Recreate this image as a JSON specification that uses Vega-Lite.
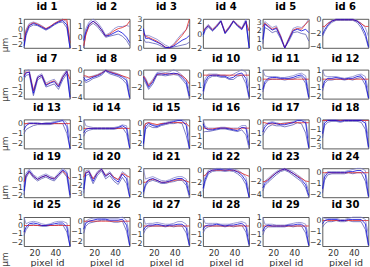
{
"$schema":"https://vega.github.io/schema/vega-lite/v6.json",
"padding":{"left":0,"top":2,"right":0,"bottom":0},
"spacing":0.8,
"data":{"values":[
{"id":1,"x":10,"b":-2.2,"r":-1.5,"u":-1.6,"l":-2.5},{"id":1,"x":12,"b":-0.5,"r":-0.2,"u":0.0,"l":-0.8},{"id":1,"x":15,"b":0.5,"r":0.6,"u":0.8,"l":0.3},{"id":1,"x":19,"b":0.8,"r":0.9,"u":1.0,"l":0.6},{"id":1,"x":23,"b":0.6,"r":0.7,"u":0.8,"l":0.5},{"id":1,"x":27,"b":0.3,"r":0.4,"u":0.5,"l":0.2},{"id":1,"x":31,"b":0.0,"r":0.1,"u":0.1,"l":-0.1},{"id":1,"x":35,"b":0.3,"r":0.4,"u":0.4,"l":0.2},{"id":1,"x":39,"b":0.7,"r":0.8,"u":0.8,"l":0.6},{"id":1,"x":43,"b":1.0,"r":1.1,"u":1.1,"l":0.9},{"id":1,"x":47,"b":1.2,"r":1.3,"u":1.4,"l":1.0},{"id":1,"x":51,"b":0.6,"r":1.3,"u":1.0,"l":0.2},{"id":1,"x":54,"b":-2.5,"r":-1.8,"u":-1.5,"l":-2.5},
{"id":2,"x":10,"b":-0.3,"r":-0.8,"u":0.0,"l":-1.0},{"id":2,"x":12,"b":0.5,"r":0.2,"u":0.8,"l":0.3},{"id":2,"x":15,"b":1.2,"r":1.1,"u":1.4,"l":1.0},{"id":2,"x":19,"b":1.5,"r":1.5,"u":1.7,"l":1.3},{"id":2,"x":23,"b":1.2,"r":1.2,"u":1.4,"l":1.0},{"id":2,"x":27,"b":0.7,"r":0.7,"u":0.9,"l":0.5},{"id":2,"x":31,"b":0.1,"r":0.1,"u":0.2,"l":0.0},{"id":2,"x":35,"b":0.2,"r":0.3,"u":0.4,"l":0.1},{"id":2,"x":39,"b":0.4,"r":0.6,"u":0.8,"l":0.2},{"id":2,"x":43,"b":0.6,"r":0.8,"u":1.0,"l":0.3},{"id":2,"x":47,"b":0.4,"r":0.9,"u":1.0,"l":0.1},{"id":2,"x":51,"b":0.0,"r":1.1,"u":1.1,"l":-0.3},{"id":2,"x":54,"b":-0.5,"r":1.5,"u":1.0,"l":-0.8},
{"id":3,"x":10,"b":2.0,"r":1.5,"u":1.6,"l":1.0},{"id":3,"x":12,"b":1.0,"r":1.2,"u":1.3,"l":0.6},{"id":3,"x":15,"b":1.0,"r":1.1,"u":1.3,"l":0.6},{"id":3,"x":19,"b":0.8,"r":0.9,"u":1.1,"l":0.5},{"id":3,"x":23,"b":0.6,"r":0.7,"u":0.9,"l":0.4},{"id":3,"x":27,"b":0.4,"r":0.4,"u":0.6,"l":0.2},{"id":3,"x":31,"b":0.05,"r":0.1,"u":0.3,"l":0.0},{"id":3,"x":35,"b":0.05,"r":0.0,"u":0.1,"l":0.0},{"id":3,"x":39,"b":0.2,"r":0.3,"u":0.4,"l":0.1},{"id":3,"x":43,"b":0.5,"r":0.8,"u":1.0,"l":0.2},{"id":3,"x":47,"b":0.8,"r":1.3,"u":1.5,"l":0.3},{"id":3,"x":51,"b":1.0,"r":1.9,"u":1.9,"l":0.4},{"id":3,"x":54,"b":1.3,"r":3.0,"u":2.5,"l":0.6},
{"id":4,"x":10,"b":0.0,"r":0.5,"u":0.4,"l":-0.3},{"id":4,"x":12,"b":0.8,"r":0.9,"u":1.0,"l":0.6},{"id":4,"x":15,"b":1.3,"r":1.3,"u":1.5,"l":1.1},{"id":4,"x":19,"b":0.6,"r":0.7,"u":0.8,"l":0.5},{"id":4,"x":23,"b":1.2,"r":1.3,"u":1.4,"l":1.1},{"id":4,"x":27,"b":2.0,"r":2.0,"u":2.2,"l":1.9},{"id":4,"x":31,"b":0.2,"r":0.3,"u":0.4,"l":0.1},{"id":4,"x":35,"b":1.0,"r":1.1,"u":1.2,"l":0.9},{"id":4,"x":39,"b":2.0,"r":2.0,"u":2.1,"l":1.9},{"id":4,"x":43,"b":1.3,"r":1.4,"u":1.5,"l":1.2},{"id":4,"x":47,"b":0.8,"r":0.9,"u":1.0,"l":0.7},{"id":4,"x":51,"b":2.0,"r":1.9,"u":2.3,"l":1.8},{"id":4,"x":54,"b":-2.0,"r":0.5,"u":-1.2,"l":-2.0},
{"id":5,"x":10,"b":1.0,"r":2.5,"u":2.0,"l":0.5},{"id":5,"x":12,"b":2.8,"r":2.9,"u":3.1,"l":2.4},{"id":5,"x":15,"b":2.5,"r":2.6,"u":2.8,"l":2.2},{"id":5,"x":19,"b":2.1,"r":2.2,"u":2.4,"l":1.8},{"id":5,"x":23,"b":2.3,"r":2.4,"u":2.6,"l":2.0},{"id":5,"x":27,"b":1.3,"r":1.4,"u":1.5,"l":1.1},{"id":5,"x":31,"b":0.0,"r":0.0,"u":0.1,"l":0.0},{"id":5,"x":35,"b":1.0,"r":1.1,"u":1.2,"l":0.8},{"id":5,"x":39,"b":2.0,"r":2.1,"u":2.3,"l":1.8},{"id":5,"x":43,"b":2.2,"r":2.3,"u":2.5,"l":1.9},{"id":5,"x":47,"b":2.0,"r":2.2,"u":2.4,"l":1.7},{"id":5,"x":51,"b":2.2,"r":2.8,"u":2.8,"l":1.6},{"id":5,"x":54,"b":1.8,"r":3.2,"u":3.4,"l":0.8},
{"id":6,"x":10,"b":-2.2,"r":-1.0,"u":-1.5,"l":-2.5},{"id":6,"x":12,"b":-1.5,"r":-1.0,"u":-1.0,"l":-1.8},{"id":6,"x":15,"b":-0.8,"r":-0.6,"u":-0.5,"l":-1.0},{"id":6,"x":19,"b":-0.2,"r":-0.2,"u":-0.1,"l":-0.4},{"id":6,"x":23,"b":0.0,"r":0.0,"u":0.1,"l":-0.1},{"id":6,"x":27,"b":0.0,"r":0.0,"u":0.1,"l":-0.1},{"id":6,"x":31,"b":0.0,"r":0.0,"u":0.1,"l":-0.1},{"id":6,"x":35,"b":0.0,"r":0.0,"u":0.1,"l":-0.1},{"id":6,"x":39,"b":0.0,"r":0.0,"u":0.1,"l":-0.1},{"id":6,"x":43,"b":-0.2,"r":-0.2,"u":-0.1,"l":-0.4},{"id":6,"x":47,"b":-0.8,"r":-0.6,"u":-0.5,"l":-1.2},{"id":6,"x":51,"b":-2.0,"r":-1.0,"u":-1.2,"l":-2.5},{"id":6,"x":54,"b":-4.0,"r":-1.0,"u":-2.5,"l":-4.2},
{"id":7,"x":10,"b":0.3,"r":0.5,"u":0.6,"l":0.0},{"id":7,"x":12,"b":0.8,"r":0.9,"u":1.1,"l":0.5},{"id":7,"x":15,"b":0.9,"r":0.9,"u":1.2,"l":0.6},{"id":7,"x":19,"b":-1.8,"r":-1.5,"u":-1.4,"l":-2.1},{"id":7,"x":23,"b":0.2,"r":0.2,"u":0.4,"l":-0.1},{"id":7,"x":27,"b":0.5,"r":0.5,"u":0.7,"l":0.3},{"id":7,"x":31,"b":-0.8,"r":-0.7,"u":-0.5,"l":-1.0},{"id":7,"x":35,"b":-0.5,"r":-0.4,"u":-0.2,"l":-0.8},{"id":7,"x":39,"b":-0.3,"r":-0.2,"u":0.0,"l":-0.6},{"id":7,"x":43,"b":-1.0,"r":-0.9,"u":-0.7,"l":-1.3},{"id":7,"x":47,"b":0.2,"r":0.3,"u":0.5,"l":-0.1},{"id":7,"x":51,"b":1.0,"r":1.0,"u":1.2,"l":0.7},{"id":7,"x":54,"b":-2.3,"r":0.0,"u":-1.5,"l":-2.5},
{"id":8,"x":10,"b":-1.0,"r":-0.8,"u":-0.7,"l":-1.3},{"id":8,"x":12,"b":-1.5,"r":-0.8,"u":-1.0,"l":-1.8},{"id":8,"x":15,"b":-1.3,"r":-1.0,"u":-1.0,"l":-1.6},{"id":8,"x":19,"b":-1.0,"r":-0.9,"u":-0.8,"l":-1.2},{"id":8,"x":23,"b":-0.8,"r":-0.7,"u":-0.6,"l":-1.0},{"id":8,"x":27,"b":-0.5,"r":-0.4,"u":-0.3,"l":-0.7},{"id":8,"x":31,"b":0.0,"r":0.0,"u":0.1,"l":-0.1},{"id":8,"x":35,"b":-0.3,"r":-0.2,"u":-0.1,"l":-0.5},{"id":8,"x":39,"b":-0.5,"r":-0.4,"u":-0.3,"l":-0.7},{"id":8,"x":43,"b":-0.7,"r":-0.6,"u":-0.5,"l":-0.9},{"id":8,"x":47,"b":-1.0,"r":-0.8,"u":-0.8,"l":-1.3},{"id":8,"x":51,"b":-1.5,"r":-1.0,"u":-1.2,"l":-2.0},{"id":8,"x":54,"b":-4.0,"r":-1.2,"u":-3.0,"l":-4.2},
{"id":9,"x":10,"b":-0.5,"r":-0.3,"u":-0.2,"l":-0.8},{"id":9,"x":12,"b":-1.0,"r":-0.8,"u":-0.6,"l":-1.3},{"id":9,"x":15,"b":-2.0,"r":-1.8,"u":-1.6,"l":-2.3},{"id":9,"x":19,"b":-1.2,"r":-1.0,"u":-0.8,"l":-1.5},{"id":9,"x":23,"b":0.0,"r":-0.1,"u":0.2,"l":-0.2},{"id":9,"x":27,"b":0.0,"r":0.0,"u":0.3,"l":-0.2},{"id":9,"x":31,"b":-0.1,"r":0.0,"u":0.2,"l":-0.3},{"id":9,"x":35,"b":0.0,"r":0.0,"u":0.3,"l":-0.2},{"id":9,"x":39,"b":0.1,"r":0.0,"u":0.6,"l":-0.1},{"id":9,"x":43,"b":0.0,"r":0.0,"u":0.3,"l":-0.2},{"id":9,"x":47,"b":-0.5,"r":-0.3,"u":-0.2,"l":-0.8},{"id":9,"x":51,"b":-1.2,"r":-0.8,"u":-0.8,"l":-1.6},{"id":9,"x":54,"b":-3.3,"r":-1.5,"u":-2.5,"l":-3.7},
{"id":10,"x":10,"b":-1.5,"r":0,"u":-1.0,"l":-1.8},{"id":10,"x":12,"b":-0.6,"r":0,"u":-0.3,"l":-0.9},{"id":10,"x":15,"b":-0.1,"r":0,"u":0.1,"l":-0.3},{"id":10,"x":19,"b":0.0,"r":0,"u":0.1,"l":-0.1},{"id":10,"x":23,"b":0.0,"r":0,"u":0.1,"l":-0.1},{"id":10,"x":27,"b":-0.1,"r":0,"u":0.0,"l":-0.2},{"id":10,"x":31,"b":-0.1,"r":0,"u":0.0,"l":-0.2},{"id":10,"x":35,"b":-0.3,"r":0,"u":-0.1,"l":-0.4},{"id":10,"x":39,"b":-0.2,"r":0,"u":0.1,"l":-0.4},{"id":10,"x":43,"b":0.1,"r":0,"u":0.3,"l":-0.1},{"id":10,"x":47,"b":0.2,"r":0,"u":0.5,"l":0.0},{"id":10,"x":51,"b":-0.3,"r":0,"u":0.3,"l":-0.8},{"id":10,"x":54,"b":-2.0,"r":0,"u":-1.2,"l":-2.2},
{"id":11,"x":10,"b":-1.2,"r":0,"u":1.1,"l":-1.5},{"id":11,"x":12,"b":-0.3,"r":0,"u":0.4,"l":-0.6},{"id":11,"x":15,"b":0.1,"r":0,"u":0.3,"l":-0.1},{"id":11,"x":19,"b":0.2,"r":0,"u":0.3,"l":0.0},{"id":11,"x":23,"b":0.2,"r":0,"u":0.3,"l":0.0},{"id":11,"x":27,"b":0.1,"r":0,"u":0.2,"l":0.0},{"id":11,"x":31,"b":0.1,"r":0,"u":0.2,"l":-0.1},{"id":11,"x":35,"b":0.1,"r":0,"u":0.3,"l":0.0},{"id":11,"x":39,"b":0.2,"r":0,"u":0.4,"l":0.0},{"id":11,"x":43,"b":0.4,"r":0,"u":0.6,"l":0.2},{"id":11,"x":47,"b":0.5,"r":0,"u":0.7,"l":0.3},{"id":11,"x":51,"b":0.0,"r":0,"u":0.4,"l":-0.5},{"id":11,"x":54,"b":-2.1,"r":0,"u":-1.5,"l":-2.3},
{"id":12,"x":10,"b":-1.0,"r":0,"u":1.1,"l":-1.4},{"id":12,"x":12,"b":-0.2,"r":0,"u":0.4,"l":-0.5},{"id":12,"x":15,"b":0.1,"r":0,"u":0.3,"l":-0.1},{"id":12,"x":19,"b":0.1,"r":0,"u":0.3,"l":-0.1},{"id":12,"x":23,"b":0.2,"r":0,"u":0.3,"l":0.0},{"id":12,"x":27,"b":0.1,"r":0,"u":0.2,"l":0.0},{"id":12,"x":31,"b":0.0,"r":0,"u":0.1,"l":-0.1},{"id":12,"x":35,"b":0.1,"r":0,"u":0.2,"l":0.0},{"id":12,"x":39,"b":0.1,"r":0,"u":0.3,"l":-0.1},{"id":12,"x":43,"b":0.3,"r":0,"u":0.5,"l":0.1},{"id":12,"x":47,"b":0.4,"r":0,"u":0.6,"l":0.2},{"id":12,"x":51,"b":-0.2,"r":0,"u":0.3,"l":-0.7},{"id":12,"x":54,"b":-2.2,"r":0,"u":-1.4,"l":-2.3},
{"id":13,"x":10,"b":-0.6,"r":0,"u":-0.2,"l":-1.0},{"id":13,"x":12,"b":-0.2,"r":0,"u":0.0,"l":-0.6},{"id":13,"x":15,"b":0.0,"r":0,"u":0.1,"l":-0.4},{"id":13,"x":19,"b":0.0,"r":0,"u":0.1,"l":-0.2},{"id":13,"x":23,"b":0.0,"r":0,"u":0.1,"l":-0.1},{"id":13,"x":27,"b":0.0,"r":0,"u":0.0,"l":-0.1},{"id":13,"x":31,"b":0.0,"r":0,"u":0.1,"l":-0.1},{"id":13,"x":35,"b":0.0,"r":0,"u":0.1,"l":-0.1},{"id":13,"x":39,"b":0.1,"r":0,"u":0.2,"l":0.0},{"id":13,"x":43,"b":0.2,"r":0,"u":0.3,"l":0.0},{"id":13,"x":47,"b":0.3,"r":0,"u":0.4,"l":0.0},{"id":13,"x":51,"b":-0.3,"r":0,"u":0.1,"l":-1.0},{"id":13,"x":54,"b":-2.5,"r":0,"u":-1.5,"l":-2.5},
{"id":14,"x":10,"b":-0.5,"r":0,"u":1.0,"l":-0.9},{"id":14,"x":12,"b":-0.1,"r":0,"u":0.3,"l":-0.4},{"id":14,"x":15,"b":0.0,"r":0,"u":0.2,"l":-0.2},{"id":14,"x":19,"b":0.0,"r":0,"u":0.1,"l":-0.1},{"id":14,"x":23,"b":0.0,"r":0,"u":0.1,"l":-0.1},{"id":14,"x":27,"b":0.0,"r":0,"u":0.1,"l":-0.1},{"id":14,"x":31,"b":0.0,"r":0,"u":0.1,"l":-0.1},{"id":14,"x":35,"b":0.0,"r":0,"u":0.1,"l":-0.1},{"id":14,"x":39,"b":0.0,"r":0,"u":0.1,"l":-0.1},{"id":14,"x":43,"b":0.1,"r":0,"u":0.2,"l":0.0},{"id":14,"x":47,"b":0.3,"r":0,"u":0.4,"l":0.1},{"id":14,"x":51,"b":0.0,"r":0,"u":0.3,"l":-0.6},{"id":14,"x":54,"b":-2.2,"r":0,"u":-1.5,"l":-2.3},
{"id":15,"x":10,"b":-2.0,"r":-0.5,"u":-1.5,"l":-2.3},{"id":15,"x":12,"b":-0.3,"r":0.0,"u":0.0,"l":-0.6},{"id":15,"x":15,"b":0.0,"r":0.1,"u":0.1,"l":-0.2},{"id":15,"x":19,"b":-0.2,"r":0.0,"u":-0.1,"l":-0.4},{"id":15,"x":23,"b":-0.3,"r":-0.1,"u":-0.2,"l":-0.4},{"id":15,"x":27,"b":-0.1,"r":0.0,"u":0.0,"l":-0.2},{"id":15,"x":31,"b":0.0,"r":0.0,"u":0.1,"l":-0.1},{"id":15,"x":35,"b":0.1,"r":0.1,"u":0.2,"l":0.0},{"id":15,"x":39,"b":0.2,"r":0.1,"u":0.3,"l":0.0},{"id":15,"x":43,"b":0.3,"r":0.1,"u":0.4,"l":0.1},{"id":15,"x":47,"b":0.3,"r":0.1,"u":0.4,"l":0.0},{"id":15,"x":51,"b":-0.2,"r":0.0,"u":0.2,"l":-1.2},{"id":15,"x":54,"b":-2.5,"r":-0.3,"u":-1.5,"l":-2.5},
{"id":16,"x":10,"b":0.5,"r":0.0,"u":1.0,"l":-0.5},{"id":16,"x":12,"b":0.0,"r":0.0,"u":0.2,"l":-0.4},{"id":16,"x":15,"b":-0.2,"r":-0.1,"u":0.0,"l":-0.4},{"id":16,"x":19,"b":-0.2,"r":-0.1,"u":0.0,"l":-0.3},{"id":16,"x":23,"b":-0.1,"r":0.0,"u":0.0,"l":-0.2},{"id":16,"x":27,"b":0.0,"r":0.0,"u":0.1,"l":-0.1},{"id":16,"x":31,"b":0.0,"r":0.0,"u":0.1,"l":-0.1},{"id":16,"x":35,"b":-0.1,"r":0.0,"u":0.0,"l":-0.2},{"id":16,"x":39,"b":-0.2,"r":-0.1,"u":0.0,"l":-0.3},{"id":16,"x":43,"b":-0.3,"r":-0.1,"u":0.0,"l":-0.4},{"id":16,"x":47,"b":0.1,"r":0.0,"u":0.3,"l":-0.2},{"id":16,"x":51,"b":0.0,"r":0.0,"u":0.3,"l":-0.8},{"id":16,"x":54,"b":-2.0,"r":0.0,"u":-1.2,"l":-2.4},
{"id":17,"x":10,"b":-0.9,"r":0.0,"u":-0.5,"l":-1.2},{"id":17,"x":12,"b":-0.4,"r":0.0,"u":-0.2,"l":-0.8},{"id":17,"x":15,"b":-0.1,"r":-0.1,"u":0.0,"l":-0.4},{"id":17,"x":19,"b":0.0,"r":-0.1,"u":0.1,"l":-0.2},{"id":17,"x":23,"b":-0.1,"r":-0.1,"u":0.0,"l":-0.3},{"id":17,"x":27,"b":-0.2,"r":-0.1,"u":-0.1,"l":-0.3},{"id":17,"x":31,"b":-0.2,"r":-0.1,"u":0.0,"l":-0.4},{"id":17,"x":35,"b":-0.1,"r":0.0,"u":0.0,"l":-0.3},{"id":17,"x":39,"b":0.0,"r":0.0,"u":0.1,"l":-0.2},{"id":17,"x":43,"b":0.2,"r":0.0,"u":0.3,"l":0.0},{"id":17,"x":47,"b":0.2,"r":0.0,"u":0.3,"l":-0.1},{"id":17,"x":51,"b":0.0,"r":0.0,"u":0.2,"l":-1.0},{"id":17,"x":54,"b":-2.4,"r":0.0,"u":-1.5,"l":-2.5},
{"id":18,"x":10,"b":-1.5,"r":0,"u":-0.8,"l":-2.0},{"id":18,"x":12,"b":-0.3,"r":0,"u":0.0,"l":-0.6},{"id":18,"x":15,"b":0.0,"r":0,"u":0.1,"l":-0.2},{"id":18,"x":19,"b":0.0,"r":0,"u":0.1,"l":-0.1},{"id":18,"x":23,"b":0.0,"r":0,"u":0.1,"l":-0.1},{"id":18,"x":27,"b":-0.1,"r":0,"u":0.0,"l":-0.2},{"id":18,"x":31,"b":0.0,"r":0,"u":0.1,"l":-0.1},{"id":18,"x":35,"b":0.0,"r":0,"u":0.1,"l":-0.1},{"id":18,"x":39,"b":0.0,"r":0,"u":0.1,"l":-0.1},{"id":18,"x":43,"b":0.0,"r":0,"u":0.1,"l":-0.1},{"id":18,"x":47,"b":0.0,"r":0,"u":0.1,"l":-0.2},{"id":18,"x":51,"b":-0.3,"r":0,"u":0.0,"l":-1.0},{"id":18,"x":54,"b":-3.0,"r":0,"u":-2.0,"l":-3.2},
{"id":19,"x":10,"b":-1.5,"r":-0.3,"u":-1.0,"l":-2.0},{"id":19,"x":12,"b":0.5,"r":0.5,"u":0.8,"l":0.2},{"id":19,"x":15,"b":1.1,"r":1.0,"u":1.3,"l":0.9},{"id":19,"x":19,"b":0.4,"r":0.4,"u":0.6,"l":0.2},{"id":19,"x":23,"b":0.0,"r":0.0,"u":0.2,"l":-0.2},{"id":19,"x":27,"b":0.3,"r":0.3,"u":0.5,"l":0.1},{"id":19,"x":31,"b":0.5,"r":0.5,"u":0.7,"l":0.3},{"id":19,"x":35,"b":0.2,"r":0.2,"u":0.4,"l":0.0},{"id":19,"x":39,"b":0.0,"r":0.1,"u":0.2,"l":-0.2},{"id":19,"x":43,"b":0.6,"r":0.6,"u":0.8,"l":0.4},{"id":19,"x":47,"b":1.2,"r":1.1,"u":1.4,"l":1.0},{"id":19,"x":51,"b":0.8,"r":0.5,"u":1.0,"l":0.3},{"id":19,"x":54,"b":-2.0,"r":0.0,"u":-1.2,"l":-2.3},
{"id":20,"x":10,"b":-2.5,"r":-1.0,"u":-2.0,"l":-3.0},{"id":20,"x":12,"b":-0.5,"r":-0.4,"u":-0.2,"l":-0.8},{"id":20,"x":15,"b":-0.3,"r":-0.3,"u":-0.1,"l":-0.6},{"id":20,"x":19,"b":-1.5,"r":-1.2,"u":-1.2,"l":-1.8},{"id":20,"x":23,"b":-0.5,"r":-0.5,"u":-0.3,"l":-0.8},{"id":20,"x":27,"b":0.0,"r":0.0,"u":0.1,"l":-0.2},{"id":20,"x":31,"b":-0.9,"r":-0.8,"u":-0.7,"l":-1.2},{"id":20,"x":35,"b":-0.5,"r":-0.5,"u":-0.3,"l":-0.8},{"id":20,"x":39,"b":-1.2,"r":-1.0,"u":-1.0,"l":-1.5},{"id":20,"x":43,"b":-1.6,"r":-1.3,"u":-1.3,"l":-1.9},{"id":20,"x":47,"b":-0.6,"r":-0.5,"u":-0.3,"l":-1.0},{"id":20,"x":51,"b":-1.2,"r":-0.8,"u":-0.7,"l":-1.8},{"id":20,"x":54,"b":-3.4,"r":-1.0,"u":-2.5,"l":-3.5},
{"id":21,"x":10,"b":-1.5,"r":0.0,"u":2.2,"l":-2.0},{"id":21,"x":12,"b":-0.3,"r":0.0,"u":0.5,"l":-0.6},{"id":21,"x":15,"b":0.4,"r":0.3,"u":0.7,"l":0.1},{"id":21,"x":19,"b":0.6,"r":0.5,"u":0.9,"l":0.3},{"id":21,"x":23,"b":0.3,"r":0.3,"u":0.6,"l":0.1},{"id":21,"x":27,"b":0.0,"r":0.0,"u":0.3,"l":-0.2},{"id":21,"x":31,"b":0.0,"r":0.0,"u":0.2,"l":-0.2},{"id":21,"x":35,"b":0.2,"r":0.1,"u":0.4,"l":0.0},{"id":21,"x":39,"b":0.4,"r":0.3,"u":0.7,"l":0.1},{"id":21,"x":43,"b":0.6,"r":0.4,"u":0.9,"l":0.3},{"id":21,"x":47,"b":0.6,"r":0.4,"u":0.9,"l":0.3},{"id":21,"x":51,"b":0.0,"r":0.2,"u":0.5,"l":-0.5},{"id":21,"x":54,"b":-2.0,"r":0.0,"u":-1.2,"l":-2.4},
{"id":22,"x":10,"b":-3.0,"r":-1.0,"u":-2.3,"l":-3.5},{"id":22,"x":12,"b":-1.5,"r":-0.8,"u":-1.0,"l":-1.9},{"id":22,"x":15,"b":-0.3,"r":-0.3,"u":0.0,"l":-0.6},{"id":22,"x":19,"b":0.0,"r":0.0,"u":0.2,"l":-0.2},{"id":22,"x":23,"b":0.1,"r":0.0,"u":0.3,"l":-0.1},{"id":22,"x":27,"b":0.1,"r":0.0,"u":0.3,"l":-0.1},{"id":22,"x":31,"b":0.0,"r":0.0,"u":0.2,"l":-0.2},{"id":22,"x":35,"b":0.1,"r":0.0,"u":0.3,"l":-0.1},{"id":22,"x":39,"b":0.0,"r":0.0,"u":0.2,"l":-0.2},{"id":22,"x":43,"b":-0.3,"r":-0.2,"u":0.0,"l":-0.6},{"id":22,"x":47,"b":-0.8,"r":-0.5,"u":-0.4,"l":-1.2},{"id":22,"x":51,"b":-1.8,"r":-0.8,"u":-1.2,"l":-2.4},{"id":22,"x":54,"b":-4.5,"r":-1.0,"u":-3.5,"l":-4.5},
{"id":23,"x":10,"b":-3.0,"r":-2.0,"u":-2.5,"l":-3.5},{"id":23,"x":12,"b":-2.3,"r":-2.0,"u":-1.9,"l":-2.6},{"id":23,"x":15,"b":-1.8,"r":-1.7,"u":-1.5,"l":-2.1},{"id":23,"x":19,"b":-1.2,"r":-1.1,"u":-0.9,"l":-1.5},{"id":23,"x":23,"b":-0.6,"r":-0.6,"u":-0.4,"l":-0.9},{"id":23,"x":27,"b":-0.2,"r":-0.2,"u":0.0,"l":-0.4},{"id":23,"x":31,"b":0.0,"r":0.0,"u":0.1,"l":-0.2},{"id":23,"x":35,"b":-0.3,"r":-0.3,"u":-0.1,"l":-0.5},{"id":23,"x":39,"b":-0.7,"r":-0.7,"u":-0.4,"l":-1.0},{"id":23,"x":43,"b":-1.2,"r":-1.1,"u":-0.9,"l":-1.5},{"id":23,"x":47,"b":-1.7,"r":-1.5,"u":-1.4,"l":-2.0},{"id":23,"x":51,"b":-2.5,"r":-1.9,"u":-2.0,"l":-3.0},{"id":23,"x":54,"b":-4.2,"r":-2.0,"u":-3.5,"l":-4.5},
{"id":24,"x":10,"b":-1.5,"r":0,"u":-1.0,"l":-1.9},{"id":24,"x":12,"b":-0.4,"r":0,"u":-0.1,"l":-0.7},{"id":24,"x":15,"b":0.0,"r":0,"u":0.1,"l":-0.2},{"id":24,"x":19,"b":0.0,"r":0,"u":0.1,"l":-0.1},{"id":24,"x":23,"b":0.0,"r":0,"u":0.1,"l":-0.1},{"id":24,"x":27,"b":0.0,"r":0,"u":0.1,"l":-0.1},{"id":24,"x":31,"b":0.0,"r":0,"u":0.1,"l":-0.1},{"id":24,"x":35,"b":0.1,"r":0,"u":0.2,"l":0.0},{"id":24,"x":39,"b":0.1,"r":0,"u":0.3,"l":-0.1},{"id":24,"x":43,"b":0.2,"r":0,"u":0.4,"l":0.0},{"id":24,"x":47,"b":0.2,"r":0,"u":0.4,"l":0.0},{"id":24,"x":51,"b":-0.2,"r":0,"u":0.2,"l":-0.8},{"id":24,"x":54,"b":-2.2,"r":0,"u":-1.5,"l":-2.3},
{"id":25,"x":10,"b":-0.8,"r":0,"u":1.0,"l":-1.2},{"id":25,"x":12,"b":-0.2,"r":0,"u":0.2,"l":-0.5},{"id":25,"x":15,"b":0.2,"r":0,"u":0.4,"l":0.0},{"id":25,"x":19,"b":0.3,"r":0,"u":0.5,"l":0.1},{"id":25,"x":23,"b":0.2,"r":0,"u":0.4,"l":0.0},{"id":25,"x":27,"b":0.0,"r":0,"u":0.2,"l":-0.1},{"id":25,"x":31,"b":0.0,"r":0,"u":0.1,"l":-0.1},{"id":25,"x":35,"b":0.1,"r":0,"u":0.2,"l":0.0},{"id":25,"x":39,"b":0.2,"r":0,"u":0.4,"l":0.0},{"id":25,"x":43,"b":0.3,"r":0,"u":0.5,"l":0.1},{"id":25,"x":47,"b":0.3,"r":0,"u":0.5,"l":0.1},{"id":25,"x":51,"b":-0.2,"r":0,"u":0.3,"l":-0.8},{"id":25,"x":54,"b":-2.5,"r":0,"u":-1.6,"l":-2.5},
{"id":26,"x":10,"b":-0.8,"r":0,"u":-0.4,"l":-1.2},{"id":26,"x":12,"b":-0.2,"r":0,"u":0.0,"l":-0.5},{"id":26,"x":15,"b":0.0,"r":0,"u":0.2,"l":-0.2},{"id":26,"x":19,"b":0.1,"r":0,"u":0.3,"l":-0.1},{"id":26,"x":23,"b":0.2,"r":0,"u":0.3,"l":0.0},{"id":26,"x":27,"b":0.2,"r":0,"u":0.3,"l":0.1},{"id":26,"x":31,"b":0.2,"r":0,"u":0.3,"l":0.1},{"id":26,"x":35,"b":0.1,"r":0,"u":0.3,"l":0.0},{"id":26,"x":39,"b":0.1,"r":0,"u":0.3,"l":-0.1},{"id":26,"x":43,"b":0.1,"r":0,"u":0.3,"l":-0.1},{"id":26,"x":47,"b":0.2,"r":0,"u":0.4,"l":0.0},{"id":26,"x":51,"b":-0.4,"r":0,"u":0.1,"l":-1.0},{"id":26,"x":54,"b":-2.4,"r":0,"u":-1.5,"l":-2.5},
{"id":27,"x":10,"b":-0.5,"r":0,"u":1.0,"l":-0.9},{"id":27,"x":12,"b":-0.1,"r":0,"u":0.2,"l":-0.4},{"id":27,"x":15,"b":0.1,"r":0,"u":0.3,"l":-0.1},{"id":27,"x":19,"b":0.1,"r":0,"u":0.3,"l":0.0},{"id":27,"x":23,"b":0.2,"r":0,"u":0.4,"l":0.0},{"id":27,"x":27,"b":0.1,"r":0,"u":0.3,"l":0.0},{"id":27,"x":31,"b":0.0,"r":0,"u":0.2,"l":-0.1},{"id":27,"x":35,"b":0.1,"r":0,"u":0.2,"l":0.0},{"id":27,"x":39,"b":0.1,"r":0,"u":0.3,"l":-0.1},{"id":27,"x":43,"b":0.2,"r":0,"u":0.5,"l":0.0},{"id":27,"x":47,"b":0.2,"r":0,"u":0.5,"l":0.0},{"id":27,"x":51,"b":-0.2,"r":0,"u":0.2,"l":-0.8},{"id":27,"x":54,"b":-2.2,"r":0,"u":-1.3,"l":-2.3},
{"id":28,"x":10,"b":-0.4,"r":0,"u":1.0,"l":-0.8},{"id":28,"x":12,"b":0.0,"r":0,"u":0.3,"l":-0.3},{"id":28,"x":15,"b":0.1,"r":0,"u":0.3,"l":-0.1},{"id":28,"x":19,"b":0.1,"r":0,"u":0.3,"l":0.0},{"id":28,"x":23,"b":0.2,"r":0,"u":0.3,"l":0.0},{"id":28,"x":27,"b":0.1,"r":0,"u":0.2,"l":0.0},{"id":28,"x":31,"b":0.0,"r":0,"u":0.2,"l":-0.1},{"id":28,"x":35,"b":0.1,"r":0,"u":0.2,"l":0.0},{"id":28,"x":39,"b":0.1,"r":0,"u":0.3,"l":-0.1},{"id":28,"x":43,"b":0.2,"r":0,"u":0.4,"l":0.0},{"id":28,"x":47,"b":0.3,"r":0,"u":0.5,"l":0.1},{"id":28,"x":51,"b":-0.1,"r":0,"u":0.3,"l":-0.7},{"id":28,"x":54,"b":-2.1,"r":0,"u":-1.3,"l":-2.3},
{"id":29,"x":10,"b":-0.6,"r":0,"u":1.0,"l":-1.0},{"id":29,"x":12,"b":-0.1,"r":0,"u":0.2,"l":-0.4},{"id":29,"x":15,"b":0.1,"r":0,"u":0.2,"l":-0.1},{"id":29,"x":19,"b":0.0,"r":0,"u":0.2,"l":-0.1},{"id":29,"x":23,"b":0.0,"r":0,"u":0.1,"l":-0.1},{"id":29,"x":27,"b":0.0,"r":0,"u":0.1,"l":-0.1},{"id":29,"x":31,"b":0.0,"r":0,"u":0.1,"l":-0.1},{"id":29,"x":35,"b":0.1,"r":0,"u":0.2,"l":0.0},{"id":29,"x":39,"b":0.1,"r":0,"u":0.3,"l":-0.1},{"id":29,"x":43,"b":0.2,"r":0,"u":0.4,"l":0.0},{"id":29,"x":47,"b":0.2,"r":0,"u":0.4,"l":0.0},{"id":29,"x":51,"b":-0.2,"r":0,"u":0.2,"l":-0.8},{"id":29,"x":54,"b":-2.2,"r":0,"u":-1.3,"l":-2.3},
{"id":30,"x":10,"b":-0.3,"r":0,"u":0.3,"l":-0.6},{"id":30,"x":12,"b":0.0,"r":0,"u":0.2,"l":-0.3},{"id":30,"x":15,"b":0.1,"r":0,"u":0.2,"l":-0.1},{"id":30,"x":19,"b":0.1,"r":0,"u":0.2,"l":-0.1},{"id":30,"x":23,"b":0.1,"r":0,"u":0.2,"l":0.0},{"id":30,"x":27,"b":0.0,"r":0,"u":0.1,"l":-0.1},{"id":30,"x":31,"b":0.0,"r":0,"u":0.1,"l":-0.1},{"id":30,"x":35,"b":0.1,"r":0,"u":0.2,"l":0.0},{"id":30,"x":39,"b":0.1,"r":0,"u":0.3,"l":-0.1},{"id":30,"x":43,"b":0.1,"r":0,"u":0.3,"l":-0.1},{"id":30,"x":47,"b":0.1,"r":0,"u":0.3,"l":-0.1},{"id":30,"x":51,"b":-0.3,"r":0,"u":0.1,"l":-0.8},{"id":30,"x":54,"b":-2.2,"r":0,"u":-1.3,"l":-2.3}
]},
"transform":[{"fold":["u","l","r","b"],"as":["s","v"]}],
"vconcat":[
{"transform":[{"filter":"datum.id <= 6"}],
 "title":{"text":"μm","orient":"left"},
 "facet":{"column":{"field":"id","type":"ordinal","header":{"title":null,"labelExpr":"'id ' + datum.value"}}},
 "spacing":{"column":-2.3},
 "spec":{"width":46,"height":29,"mark":{"type":"line"},
  "encoding":{
   "x":{"field":"x","type":"quantitative","scale":{"domain":[10,54],"nice":false},"axis":null},
   "y":{"field":"v","type":"quantitative","scale":{"zero":false,"nice":false},"axis":{"title":null,"tickCount":3,"labelOverlap":false}},
   "color":{"field":"s","type":"nominal","scale":{"domain":["u","l","r","b"],"range":["#8484cc","#5c5cb4","#e02424","#0808dc"]},"legend":null},
   "strokeWidth":{"field":"s","type":"ordinal","scale":{"domain":["u","l","r","b"],"range":[0.8,0.8,1,1.6]},"legend":null}}},
 "resolve":{"scale":{"y":"independent"}}},
{"transform":[{"filter":"datum.id > 6 && datum.id <= 12"}],
 "title":{"text":"μm","orient":"left"},
 "facet":{"column":{"field":"id","type":"ordinal","header":{"title":null,"labelExpr":"'id ' + datum.value"}}},
 "spacing":{"column":-2.3},
 "spec":{"width":46,"height":29,"mark":{"type":"line"},
  "encoding":{
   "x":{"field":"x","type":"quantitative","scale":{"domain":[10,54],"nice":false},"axis":null},
   "y":{"field":"v","type":"quantitative","scale":{"zero":false,"nice":false},"axis":{"title":null,"tickCount":3,"labelOverlap":false}},
   "color":{"field":"s","type":"nominal","scale":{"domain":["u","l","r","b"],"range":["#8484cc","#5c5cb4","#e02424","#0808dc"]},"legend":null},
   "strokeWidth":{"field":"s","type":"ordinal","scale":{"domain":["u","l","r","b"],"range":[0.8,0.8,1,1.6]},"legend":null}}},
 "resolve":{"scale":{"y":"independent"}}},
{"transform":[{"filter":"datum.id > 12 && datum.id <= 18"}],
 "title":{"text":"μm","orient":"left"},
 "facet":{"column":{"field":"id","type":"ordinal","header":{"title":null,"labelExpr":"'id ' + datum.value"}}},
 "spacing":{"column":-2.3},
 "spec":{"width":46,"height":29,"mark":{"type":"line"},
  "encoding":{
   "x":{"field":"x","type":"quantitative","scale":{"domain":[10,54],"nice":false},"axis":null},
   "y":{"field":"v","type":"quantitative","scale":{"zero":false,"nice":false},"axis":{"title":null,"tickCount":3,"labelOverlap":false}},
   "color":{"field":"s","type":"nominal","scale":{"domain":["u","l","r","b"],"range":["#8484cc","#5c5cb4","#e02424","#0808dc"]},"legend":null},
   "strokeWidth":{"field":"s","type":"ordinal","scale":{"domain":["u","l","r","b"],"range":[0.8,0.8,1,1.6]},"legend":null}}},
 "resolve":{"scale":{"y":"independent"}}},
{"transform":[{"filter":"datum.id > 18 && datum.id <= 24"}],
 "title":{"text":"μm","orient":"left"},
 "facet":{"column":{"field":"id","type":"ordinal","header":{"title":null,"labelExpr":"'id ' + datum.value"}}},
 "spacing":{"column":-2.3},
 "spec":{"width":46,"height":29,"mark":{"type":"line"},
  "encoding":{
   "x":{"field":"x","type":"quantitative","scale":{"domain":[10,54],"nice":false},"axis":null},
   "y":{"field":"v","type":"quantitative","scale":{"zero":false,"nice":false},"axis":{"title":null,"tickCount":3,"labelOverlap":false}},
   "color":{"field":"s","type":"nominal","scale":{"domain":["u","l","r","b"],"range":["#8484cc","#5c5cb4","#e02424","#0808dc"]},"legend":null},
   "strokeWidth":{"field":"s","type":"ordinal","scale":{"domain":["u","l","r","b"],"range":[0.8,0.8,1,1.6]},"legend":null}}},
 "resolve":{"scale":{"y":"independent"}}},
{"transform":[{"filter":"datum.id > 24"}],
 "title":{"text":"μm","orient":"left"},
 "facet":{"column":{"field":"id","type":"ordinal","header":{"title":null,"labelExpr":"'id ' + datum.value"}}},
 "spacing":{"column":-2.3},
 "spec":{"width":46,"height":29,"mark":{"type":"line"},
  "encoding":{
   "x":{"field":"x","type":"quantitative","scale":{"domain":[10,54],"nice":false},"axis":{"values":[20,40],"title":"pixel id","labelFontSize":8.5,"titleFontSize":9.5,"titleFontWeight":"normal","labelPadding":0.5,"titlePadding":0}},
   "y":{"field":"v","type":"quantitative","scale":{"zero":false,"nice":false},"axis":{"title":null,"tickCount":3,"labelOverlap":false}},
   "color":{"field":"s","type":"nominal","scale":{"domain":["u","l","r","b"],"range":["#8484cc","#5c5cb4","#e02424","#0808dc"]},"legend":null},
   "strokeWidth":{"field":"s","type":"ordinal","scale":{"domain":["u","l","r","b"],"range":[0.8,0.8,1,1.6]},"legend":null}}},
 "resolve":{"scale":{"y":"independent"}}}
],
"config":{
 "font":"DejaVu Sans",
 "view":{"stroke":"#333333","strokeWidth":0.8},
 "axis":{"domain":false,"ticks":false,"grid":false,"labelFontSize":7.8,"labelColor":"#333333","labelPadding":1.5,"titleColor":"#333333"},
 "header":{"labelFontSize":10,"labelFontWeight":"bold","labelColor":"#000000","labelPadding":2},
 "title":{"fontSize":9,"fontWeight":"normal","color":"#444444","offset":1}
}
}
